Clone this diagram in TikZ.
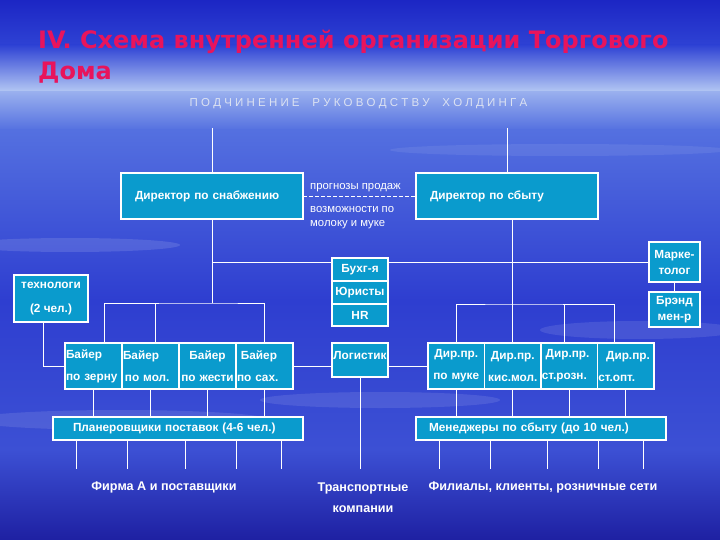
\documentclass[tikz,border=0pt]{standalone}
\usepackage{fontspec}
\setmainfont{Liberation Sans}
\newfontfamily\headfont{DejaVu Sans}
\usepackage{xcolor}
\usepackage{tikz}
\usetikzlibrary{positioning}
\definecolor{deckblue}{HTML}{0A9BCD}
\definecolor{titlered}{HTML}{E8145C}
\definecolor{headgray}{HTML}{DCE2F2}
\definecolor{skytop}{HTML}{1C26C4}
\definecolor{skymid}{HTML}{2E42D4}
\definecolor{skyhaze}{HTML}{B6CAF4}
\definecolor{seahigh}{HTML}{5470E0}
\definecolor{seamid}{HTML}{2E3ED0}
\definecolor{sealow}{HTML}{3C50D4}
\definecolor{seabottom}{HTML}{1E20A2}

\begin{document}
\begin{tikzpicture}[x=1pt,y=-1pt,font=\bfseries\fontsize{11.8}{13}\selectfont,
  unit/.style={draw=white,line width=1.2pt,fill=deckblue,text=white,inner sep=0pt,outer sep=0pt,align=center},
  link/.style={draw=white,line width=0.9pt},
  note/.style={text=white,font=\fontsize{11.3}{14}\selectfont,align=left,inner sep=0pt}]
  % sky and sea
  \useasboundingbox (0,0) rectangle (720,540);
  \fill[top color=skytop,bottom color=skymid] (0,0) rectangle (720,45.5);
  \fill[top color=skymid,bottom color=skyhaze] (0,45) rectangle (720,92.5);
  \fill[top color=skyhaze!70!seahigh,bottom color=seahigh] (0,92) rectangle (720,130.5);
  \fill[top color=seahigh,bottom color=seamid] (0,130) rectangle (720,300.5);
  \fill[top color=seamid,bottom color=sealow] (0,300) rectangle (720,450.5);
  \fill[top color=sealow,bottom color=seabottom] (0,450) rectangle (720,540);
  \fill[white,opacity=0.12] (70,245) ellipse (110 and 7);
  \fill[white,opacity=0.10] (640,330) ellipse (100 and 9);
  \fill[white,opacity=0.10] (120,420) ellipse (150 and 10);
  \fill[white,opacity=0.08] (560,150) ellipse (170 and 6);
  \fill[white,opacity=0.10] (380,400) ellipse (120 and 8);
  % title
  \node[anchor=north west,inner sep=0pt,align=left,text=titlered,font=\headfont\bfseries\fontsize{24}{31}\selectfont] (title) at (38,30) {IV. Схема внутренней организации Торгового\\Дома};
  \node[inner sep=0pt,text=headgray,font=\fontsize{11.5}{12}\selectfont] (holding) at (358.5,104) {П О Д Ч И Н Е Н И Е \ \ \ Р У К О В О Д С Т В У \ \ \ Х О Л Д И Н Г А};
  \coordinate (holdsnab) at (212,128);
  \coordinate (holdsbyt) at (507,128);
  % directors
  \node[unit,minimum width=182,minimum height=46,text width=154,align=left] (dsnab) at (212,196) {Директор по снабжению};
  \node[unit,minimum width=182,minimum height=46,text width=154,align=left] (dsbyt) at (507,196) {Директор по сбыту};
  \node[note,anchor=base west] (forecast) at (310,190) {прогнозы продаж};
  \node[note,anchor=north west] (capacity) at (310,206) {возможности по\\молоку и муке};
  % staff
  \node[unit,minimum width=56,minimum height=23] (buh) at (360,269.5) {Бухг-я};
  \node[unit,minimum width=56,minimum height=23,below=0pt of buh] (yur) {Юристы};
  \node[unit,minimum width=56,minimum height=22,below=0pt of yur] (hr) {HR};
  \node[unit,minimum width=51,minimum height=40,font=\bfseries\fontsize{11.8}{16}\selectfont] (market) at (674.5,262) {Марке-\\толог};
  \node[unit,minimum width=51,minimum height=35,font=\bfseries\fontsize{11.8}{16}\selectfont] (brand) at (674.5,309.5) {Брэнд\\мен-р};
  \node[unit,minimum width=74,minimum height=47] (tech) at (51,298.5) {технологи\\[11pt](2 чел.)};
  % buyers and sales heads
  \node[unit,minimum width=57,minimum height=46,text width=55,align=left] (bay1) at (93.5,366) {Байер\\[9pt]по зерну};
  \node[unit,minimum width=57,minimum height=46,text width=55,align=left,right=0pt of bay1] (bay2) {Байер\\[9pt]\,по мол.};
  \node[unit,minimum width=57,minimum height=46,text width=55,align=center,right=0pt of bay2] (bay3) {Байер\\[9pt]по жести};
  \node[unit,minimum width=57,minimum height=46,text width=55,align=left,right=0pt of bay3] (bay4) {\ Байер\\[9pt]по сах.};
  \node[unit,minimum width=56,minimum height=34,text depth=10pt] (logist) at (360,360) {Логистик};
  \node[unit,minimum width=56.5,minimum height=46,text width=55,align=center] (dp1) at (456.25,366) {Дир.пр.\\[9pt]по муке};
  \node[unit,minimum width=56.5,minimum height=46,text width=55,align=center,right=0pt of dp1] (dp2) {Дир.пр.\\[9pt]кис.мол.};
  \node[unit,minimum width=56.5,minimum height=46,text width=55,align=left,right=0pt of dp2] (dp3) {\ Дир.пр.\\[9pt]ст.розн.};
  \node[unit,minimum width=56.5,minimum height=46,text width=55,align=left,right=0pt of dp3] (dp4) {\ \ Дир.пр.\\[9pt]ст.опт.};
  \node[unit,minimum width=250,minimum height=23,text width=210,align=left] (planners) at (178,428.5) {Планеровщики поставок (4-6 чел.)};
  \node[unit,minimum width=250,minimum height=23,text width=224,align=left] (managers) at (541,428.5) {Менеджеры по сбыту (до 10 чел.)};
  % outside parties
  \node[text=white,font=\bfseries\fontsize{12.6}{13}\selectfont] (suppliers) at (164,487) {Фирма А и поставщики};
  \node[text=white,align=center,font=\bfseries\fontsize{12.6}{13}\selectfont] (carriers) at (363,497.5) {Транспортные\\[8pt]компании};
  \node[text=white,font=\bfseries\fontsize{12.6}{13}\selectfont] (outlets) at (543,487) {Филиалы, клиенты, розничные сети};
  \coordinate (buyhub) at (212,303);
  \coordinate (salehub) at (513,304);
  \coordinate (carrierend) at (360,469);
  % links
  \draw[link] (holdsnab) -- (dsnab);
  \draw[link] (holdsbyt) -- (dsbyt);
  \draw[link,dash pattern=on 4pt off 2pt] (dsnab.east) -- (dsbyt.west);
  \draw[link] (dsnab.south) -- (buyhub);
  \draw[link] (dsnab.south |- market.west) -- (buh.west |- market.west);
  \draw[link] (buh.east |- market.west) -- (market.west);
  \draw[link] (market) -- (brand);
  \draw[link] ([xshift=10.5pt]bay1.north) |- (buyhub) -| (bay4.north);
  \draw[link] ([xshift=4.5pt]bay2.north) -- ([xshift=4.5pt]bay2.north |- buyhub);
  \draw[link] (dp2.north) -- (dp2.north |- dsbyt.south);
  \draw[link] (dp1.north) |- (salehub) -| ([xshift=-11pt]dp4.north);
  \draw[link] ([xshift=-4.5pt]dp3.north) -- ([xshift=-4.5pt]dp3.north |- salehub);
  \draw[link] ([xshift=-8pt]tech.south) |- (bay1.west);
  \draw[link] (bay4.east) -- (bay4.east -| logist.west);
  \draw[link] (logist.east |- bay4.east) -- (dp1.west);
  \draw[link] (logist) -- (carrierend);
  \foreach \b in {bay1,bay2,bay3,bay4,dp1,dp2,dp3,dp4}
    \draw[link] (\b.south) -- (\b.south |- planners.north);
  \foreach \x in {76,127,185,236,281,439,490,547,598,643}
    \draw[link] (planners.south -| \x,0) -- ++(0,29);
\end{tikzpicture}
\end{document}
